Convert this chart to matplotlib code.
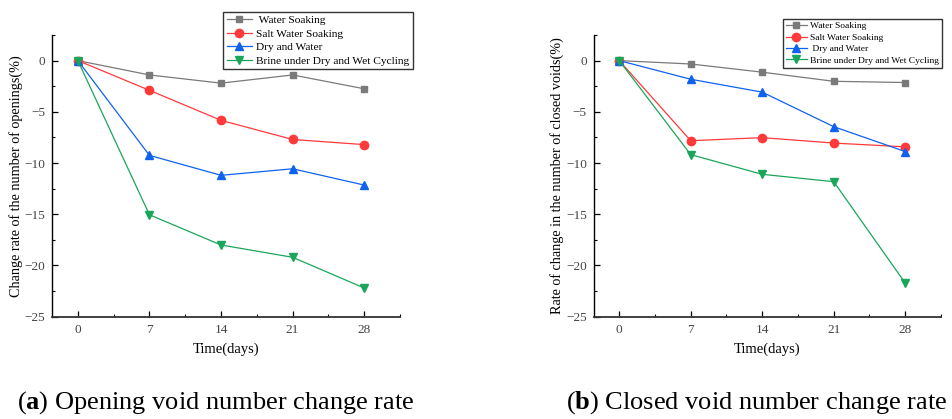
import matplotlib
matplotlib.use("Agg")
import matplotlib.pyplot as plt
from matplotlib.ticker import MultipleLocator

plt.rcParams['font.family'] = ['Liberation Serif', 'DejaVu Serif']
plt.rcParams['mathtext.fontset'] = 'custom'
plt.rcParams['mathtext.rm'] = 'Liberation Serif'
plt.rcParams['mathtext.bf'] = 'Liberation Serif:bold'

days = [0, 7, 14, 21, 28]
legend_labels_a = [" Water Soaking", "Salt Water Soaking", "Dry and Water",
                   "Brine under Dry and Wet Cycling"]
legend_labels_b = ["Water Soaking", "Salt Water Soaking", " Dry and Water",
                   "Brine under Dry and Wet Cycling"]

# (a) opening voids
open_water = [0, -1.4, -2.2, -1.4, -2.75]
open_salt = [0, -2.9, -5.83, -7.7, -8.2]
open_dry = [0, -9.25, -11.2, -10.56, -12.15]
open_brine = [0, -15.05, -18.0, -19.2, -22.2]

# (b) closed voids
closed_water = [0, -0.33, -1.13, -2.02, -2.14]
closed_salt = [0, -7.82, -7.52, -8.05, -8.42]
closed_dry = [0, -1.82, -3.08, -6.45, -8.88]
closed_brine = [0, -9.18, -11.1, -11.82, -21.72]

colors = ["#7a7a7a", "#ff3a3a", "#0f62ee", "#1aa65a"]
markers = ["s", "o", "^", "v"]
msizes = [5, 6, 6, 6]

ylabel_a = "Change rate of the number of openings(%)"
ylabel_b = "Rate of change in the number of closed voids(%)"
xlabel = "Time(days)"
caption_a = r"($\mathbf{a}$) Opening void number change rate"
caption_b = r"($\mathbf{b}$) Closed void number change rate"

fig = plt.figure(figsize=(9.52, 4.19), dpi=100)
W, H = 952, 419

def make_axes(left_px, right_px):
    return fig.add_axes([left_px / W, (H - 316.7) / H,
                         (right_px - left_px) / W, (316.7 - 35) / H])

ax_a = make_axes(52.3, 400)
ax_b = make_axes(593.7, 941)

def style(ax, data, ylabel, labels, leg_anchor, leg_fs, leg_spacing, ylx):
    handles = []
    for vals, c, m, ms, lab in zip(data, colors, markers, msizes, labels):
        h, = ax.plot(days, vals, color=c, marker=m, markersize=ms, lw=0.9,
                     label=lab, clip_on=False, zorder=3)
        handles.append(h)
    ax.set_xlim(-2.5, 31.5)
    ax.set_ylim(-25, 2.5)
    ax.set_xticks(days)
    ax.xaxis.set_minor_locator(MultipleLocator(3.5))
    ax.yaxis.set_minor_locator(MultipleLocator(2.5))
    ax.set_yticks([0, -5, -10, -15, -20, -25])
    for s in ["top", "right"]:
        ax.spines[s].set_visible(False)
    ax.spines["left"].set_linewidth(1.0)
    ax.spines["bottom"].set_linewidth(1.3)
    ax.spines["bottom"].set_color("#333333")
    ax.tick_params(which="major", direction="in", length=4, width=0.9,
                   labelsize=9.5, labelcolor="#444444", pad=5)
    ax.tick_params(which="minor", direction="in", length=2, width=0.8)
    ax.set_ylabel(ylabel, fontsize=10.2)
    ax.yaxis.set_label_coords(ylx, 0.5)
    ax.set_xlabel(xlabel, fontsize=10.5, labelpad=5)
    leg = fig.legend(handles=handles, loc="upper left",
                     bbox_to_anchor=leg_anchor, fontsize=leg_fs,
                     frameon=True, fancybox=False, edgecolor="black",
                     handlelength=2.2, handletextpad=0.4,
                     labelspacing=leg_spacing, borderpad=0.3,
                     borderaxespad=0)
    leg.get_frame().set_linewidth(1.0)

style(ax_a, [open_water, open_salt, open_dry, open_brine], ylabel_a,
      legend_labels_a, (223.3 / W, 1 - 11.7 / H), 8.2, 0.32, -0.085)
style(ax_b, [closed_water, closed_salt, closed_dry, closed_brine], ylabel_b,
      legend_labels_b, (783 / W, 1 - 19 / H), 6.8, 0.3, -0.086)

fig.text(17 / W, 1 - 403 / H, caption_a, fontsize=19, va="center", ha="left")
fig.text(566 / W, 1 - 403 / H, caption_b, fontsize=19, va="center", ha="left")

fig.savefig("out.png", dpi=100)
